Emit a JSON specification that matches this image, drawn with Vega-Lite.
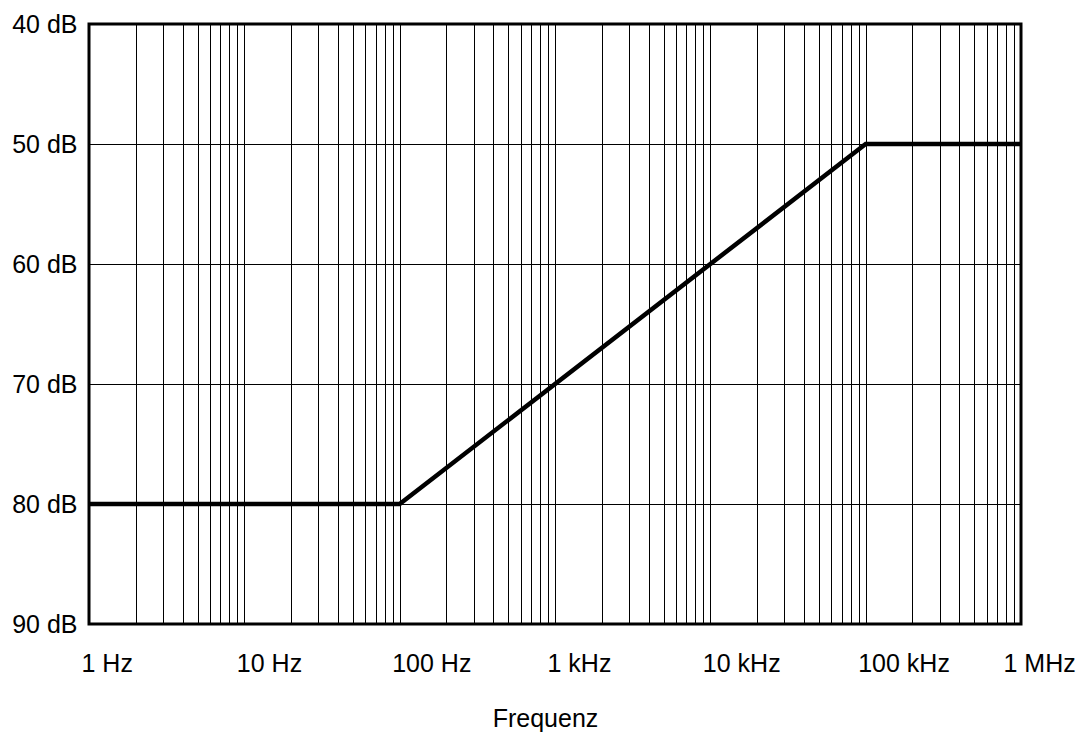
{
  "$schema": "https://vega.github.io/schema/vega-lite/v6.json",
  "autosize": {"type": "none"},
  "width": 932,
  "height": 600,
  "padding": {"left": 89, "top": 24, "right": 58, "bottom": 112},
  "background": "white",
  "config": {
    "view": {"stroke": "black", "strokeWidth": 3},
    "font": "Liberation Sans"
  },
  "data": {
    "values": [
      {"freq": 1, "db": 80},
      {"freq": 100, "db": 80},
      {"freq": 100000, "db": 50},
      {"freq": 1000000, "db": 50}
    ]
  },
  "mark": {"type": "line", "color": "black", "strokeWidth": 4.5, "clip": true},
  "encoding": {
    "x": {
      "field": "freq",
      "type": "quantitative",
      "scale": {"type": "log", "domain": [1, 1000000], "nice": false},
      "axis": {
        "values": [1,2,3,4,5,6,7,8,9,10,20,30,40,50,60,70,80,90,100,200,300,400,500,600,700,800,900,1000,2000,3000,4000,5000,6000,7000,8000,9000,10000,20000,30000,40000,50000,60000,70000,80000,90000,100000,200000,300000,400000,500000,600000,700000,800000,900000,1000000],
        "labelExpr": "datum.value == 1 ? '1 Hz' : datum.value == 10 ? '10 Hz' : datum.value == 100 ? '100 Hz' : datum.value == 1000 ? '1 kHz' : datum.value == 10000 ? '10 kHz' : datum.value == 100000 ? '100 kHz' : datum.value == 1000000 ? '1 MHz' : ''",
        "labelOverlap": false,
        "labelFlush": false,
        "labelAlign": "left",
        "labelOffset": {"condition": {"test": "datum.value == 1000000", "value": -18}, "value": -8},
        "labelBaseline": "alphabetic",
        "labelPadding": 47,
        "labelFont": "Liberation Sans",
        "labelFontSize": 25,
        "labelColor": "black",
        "ticks": false,
        "domain": false,
        "grid": true,
        "gridColor": "black",
        "gridWidth": 1,
        "gridOpacity": 1,
        "title": "Frequenz",
        "titleFont": "Liberation Sans",
        "titleFontSize": 25,
        "titleFontWeight": "normal",
        "titleColor": "black",
        "titleBaseline": "alphabetic",
        "titleAlign": "center",
        "titleX": 456,
        "titleY": 102
      }
    },
    "y": {
      "field": "db",
      "type": "quantitative",
      "scale": {"domain": [40, 90], "reverse": true, "nice": false, "zero": false},
      "axis": {
        "values": [40, 50, 60, 70, 80, 90],
        "labelExpr": "datum.value + ' dB'",
        "labelFont": "Liberation Sans",
        "labelFontSize": 25,
        "labelColor": "black",
        "labelPadding": 12,
        "labelBaseline": "middle",
        "labelFlush": false,
        "labelOverlap": false,
        "ticks": false,
        "domain": false,
        "grid": true,
        "gridColor": "black",
        "gridWidth": 1,
        "gridOpacity": 1,
        "title": null
      }
    }
  }
}
